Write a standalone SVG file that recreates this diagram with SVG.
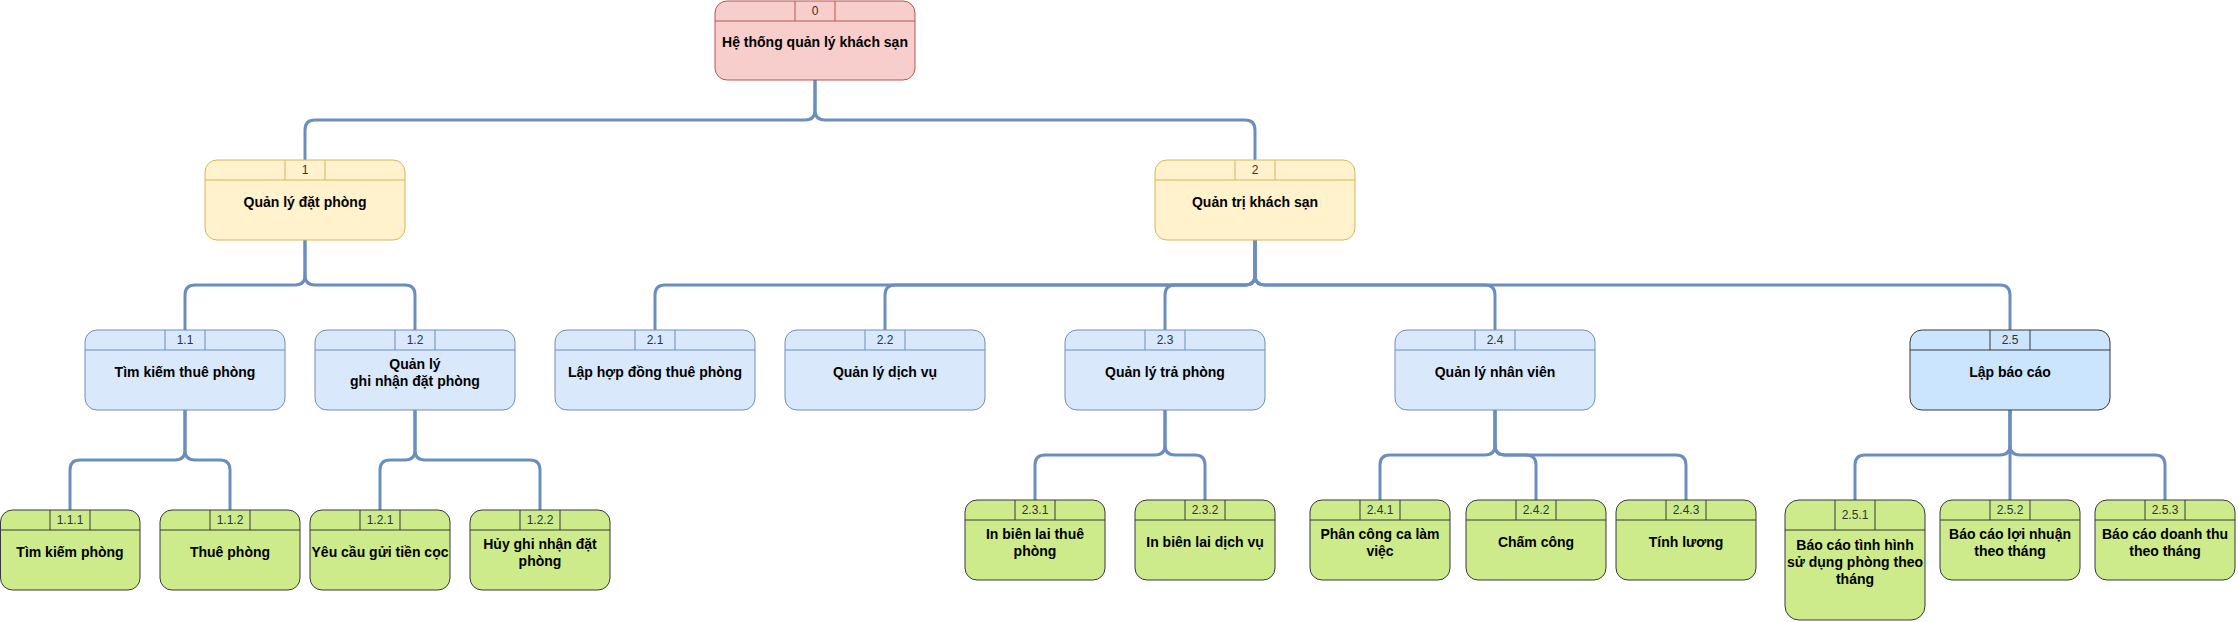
<svg xmlns="http://www.w3.org/2000/svg" width="2238" height="622" viewBox="0 0 2238 622">
<style>
.edge{fill:none;stroke:#6C8EBF;stroke-width:3}
.box{stroke-width:1}
.r0 .box{fill:#F8CECC;stroke:#B85450}
.r0 .sep{stroke:#B85450}
.l1 .box{fill:#FFF2CC;stroke:#D6B656}
.l1 .sep{stroke:#D6B656}
.l2 .box{fill:#DAE8FC;stroke:#6C8EBF}
.l2 .sep{stroke:#6C8EBF}
.l2b .box{fill:#CCE5FF;stroke:#36393D}
.l2b .sep{stroke:#36393D}
.l3 .box{fill:#CDEB8B;stroke:#36393D}
.l3 .sep{stroke:#36393D}
.sep{fill:none;stroke-width:1}
.num{font-family:"Liberation Sans",Arial,sans-serif;font-size:12px;fill:#333333;text-anchor:middle}
.lbl{font-family:"Liberation Sans",Arial,sans-serif;font-size:14px;font-weight:bold;fill:#000000;text-anchor:middle}
</style>
<g id="connectors">
<path class="edge" d="M815,80 V110 Q815,120 805,120 H315 Q305,120 305,130 V160"/>
<path class="edge" d="M815,80 V110 Q815,120 825,120 H1245 Q1255,120 1255,130 V160"/>
<path class="edge" d="M305,240 V275 Q305,285 295,285 H195 Q185,285 185,295 V330"/>
<path class="edge" d="M305,240 V275 Q305,285 315,285 H405 Q415,285 415,295 V330"/>
<path class="edge" d="M1255,240 V275 Q1255,285 1245,285 H665 Q655,285 655,295 V330"/>
<path class="edge" d="M1255,240 V275 Q1255,285 1245,285 H895 Q885,285 885,295 V330"/>
<path class="edge" d="M1255,240 V275 Q1255,285 1245,285 H1175 Q1165,285 1165,295 V330"/>
<path class="edge" d="M1255,240 V275 Q1255,285 1265,285 H1485 Q1495,285 1495,295 V330"/>
<path class="edge" d="M1255,240 V275 Q1255,285 1265,285 H2000 Q2010,285 2010,295 V330"/>
<path class="edge" d="M185,410 V450 Q185,460 175,460 H80 Q70,460 70,470 V510"/>
<path class="edge" d="M185,410 V450 Q185,460 195,460 H220 Q230,460 230,470 V510"/>
<path class="edge" d="M415,410 V450 Q415,460 405,460 H390 Q380,460 380,470 V510"/>
<path class="edge" d="M415,410 V450 Q415,460 425,460 H530 Q540,460 540,470 V510"/>
<path class="edge" d="M1165,410 V445 Q1165,455 1155,455 H1045 Q1035,455 1035,465 V500"/>
<path class="edge" d="M1165,410 V445 Q1165,455 1175,455 H1195 Q1205,455 1205,465 V500"/>
<path class="edge" d="M1495,410 V445 Q1495,455 1485,455 H1390 Q1380,455 1380,465 V500"/>
<path class="edge" d="M1495,410 V445 Q1495,455 1505,455 H1526 Q1536,455 1536,465 V500"/>
<path class="edge" d="M1495,410 V445 Q1495,455 1505,455 H1676 Q1686,455 1686,465 V500"/>
<path class="edge" d="M2010,410 V445 Q2010,455 2000,455 H1865 Q1855,455 1855,465 V500"/>
<path class="edge" d="M2010,410 V500"/>
<path class="edge" d="M2010,410 V445 Q2010,455 2020,455 H2155 Q2165,455 2165,465 V500"/>
</g>

<g id="n0" class="r0">
<rect class="box" x="715" y="1" width="200" height="79" rx="12"/>
<path class="sep" d="M715,21 H915 M795,1 V21 M835,1 V21"/>
<text class="num" x="815" y="15">0</text>
<text class="lbl" x="815" y="47">Hệ thống quản lý khách sạn</text>
</g>

<g id="n1" class="l1">
<rect class="box" x="205" y="160" width="200" height="80" rx="12"/>
<path class="sep" d="M205,180 H405 M285,160 V180 M325,160 V180"/>
<text class="num" x="305" y="174">1</text>
<text class="lbl" x="305" y="207">Quản lý đặt phòng</text>
</g>

<g id="n2" class="l1">
<rect class="box" x="1155" y="160" width="200" height="80" rx="12"/>
<path class="sep" d="M1155,180 H1355 M1235,160 V180 M1275,160 V180"/>
<text class="num" x="1255" y="174">2</text>
<text class="lbl" x="1255" y="207">Quản trị khách sạn</text>
</g>

<g id="n1-1" class="l2">
<rect class="box" x="85" y="330" width="200" height="80" rx="12"/>
<path class="sep" d="M85,350 H285 M165,330 V350 M205,330 V350"/>
<text class="num" x="185" y="344">1.1</text>
<text class="lbl" x="185" y="377">Tìm kiếm thuê phòng</text>
</g>

<g id="n1-2" class="l2">
<rect class="box" x="315" y="330" width="200" height="80" rx="12"/>
<path class="sep" d="M315,350 H515 M395,330 V350 M435,330 V350"/>
<text class="num" x="415" y="344">1.2</text>
<text class="lbl" x="415" y="368.5">Quản lý</text>
<text class="lbl" x="415" y="385.5">ghi nhận đặt phòng</text>
</g>

<g id="n2-1" class="l2">
<rect class="box" x="555" y="330" width="200" height="80" rx="12"/>
<path class="sep" d="M555,350 H755 M635,330 V350 M675,330 V350"/>
<text class="num" x="655" y="344">2.1</text>
<text class="lbl" x="655" y="377">Lập hợp đồng thuê phòng</text>
</g>

<g id="n2-2" class="l2">
<rect class="box" x="785" y="330" width="200" height="80" rx="12"/>
<path class="sep" d="M785,350 H985 M865,330 V350 M905,330 V350"/>
<text class="num" x="885" y="344">2.2</text>
<text class="lbl" x="885" y="377">Quản lý dịch vụ</text>
</g>

<g id="n2-3" class="l2">
<rect class="box" x="1065" y="330" width="200" height="80" rx="12"/>
<path class="sep" d="M1065,350 H1265 M1145,330 V350 M1185,330 V350"/>
<text class="num" x="1165" y="344">2.3</text>
<text class="lbl" x="1165" y="377">Quản lý trả phòng</text>
</g>

<g id="n2-4" class="l2">
<rect class="box" x="1395" y="330" width="200" height="80" rx="12"/>
<path class="sep" d="M1395,350 H1595 M1475,330 V350 M1515,330 V350"/>
<text class="num" x="1495" y="344">2.4</text>
<text class="lbl" x="1495" y="377">Quản lý nhân viên</text>
</g>

<g id="n2-5" class="l2b">
<rect class="box" x="1910" y="330" width="200" height="80" rx="12"/>
<path class="sep" d="M1910,350 H2110 M1990,330 V350 M2030,330 V350"/>
<text class="num" x="2010" y="344">2.5</text>
<text class="lbl" x="2010" y="377">Lập báo cáo</text>
</g>

<g id="n1-1-1" class="l3">
<rect class="box" x="0.5" y="510" width="139.5" height="80" rx="12"/>
<path class="sep" d="M0.5,530 H140 M50,510 V530 M90,510 V530"/>
<text class="num" x="70" y="524">1.1.1</text>
<text class="lbl" x="70" y="557">Tìm kiếm phòng</text>
</g>

<g id="n1-1-2" class="l3">
<rect class="box" x="160" y="510" width="140" height="80" rx="12"/>
<path class="sep" d="M160,530 H300 M210,510 V530 M250,510 V530"/>
<text class="num" x="230" y="524">1.1.2</text>
<text class="lbl" x="230" y="557">Thuê phòng</text>
</g>

<g id="n1-2-1" class="l3">
<rect class="box" x="310" y="510" width="140" height="80" rx="12"/>
<path class="sep" d="M310,530 H450 M360,510 V530 M400,510 V530"/>
<text class="num" x="380" y="524">1.2.1</text>
<text class="lbl" x="380" y="557">Yêu cầu gửi tiền cọc</text>
</g>

<g id="n1-2-2" class="l3">
<rect class="box" x="470" y="510" width="140" height="80" rx="12"/>
<path class="sep" d="M470,530 H610 M520,510 V530 M560,510 V530"/>
<text class="num" x="540" y="524">1.2.2</text>
<text class="lbl" x="540" y="548.5">Hủy ghi nhận đặt</text>
<text class="lbl" x="540" y="565.5">phòng</text>
</g>

<g id="n2-3-1" class="l3">
<rect class="box" x="965" y="500" width="140" height="80" rx="12"/>
<path class="sep" d="M965,520 H1105 M1015,500 V520 M1055,500 V520"/>
<text class="num" x="1035" y="514">2.3.1</text>
<text class="lbl" x="1035" y="538.5">In biên lai thuê</text>
<text class="lbl" x="1035" y="555.5">phòng</text>
</g>

<g id="n2-3-2" class="l3">
<rect class="box" x="1135" y="500" width="140" height="80" rx="12"/>
<path class="sep" d="M1135,520 H1275 M1185,500 V520 M1225,500 V520"/>
<text class="num" x="1205" y="514">2.3.2</text>
<text class="lbl" x="1205" y="547">In biên lai dịch vụ</text>
</g>

<g id="n2-4-1" class="l3">
<rect class="box" x="1310" y="500" width="140" height="80" rx="12"/>
<path class="sep" d="M1310,520 H1450 M1360,500 V520 M1400,500 V520"/>
<text class="num" x="1380" y="514">2.4.1</text>
<text class="lbl" x="1380" y="538.5">Phân công ca làm</text>
<text class="lbl" x="1380" y="555.5">việc</text>
</g>

<g id="n2-4-2" class="l3">
<rect class="box" x="1466" y="500" width="140" height="80" rx="12"/>
<path class="sep" d="M1466,520 H1606 M1516,500 V520 M1556,500 V520"/>
<text class="num" x="1536" y="514">2.4.2</text>
<text class="lbl" x="1536" y="547">Chấm công</text>
</g>

<g id="n2-4-3" class="l3">
<rect class="box" x="1616" y="500" width="140" height="80" rx="12"/>
<path class="sep" d="M1616,520 H1756 M1666,500 V520 M1706,500 V520"/>
<text class="num" x="1686" y="514">2.4.3</text>
<text class="lbl" x="1686" y="547">Tính lương</text>
</g>

<g id="n2-5-1" class="l3">
<rect class="box" x="1785" y="500" width="140" height="120" rx="14"/>
<path class="sep" d="M1785,530 H1925 M1835,500 V530 M1875,500 V530"/>
<text class="num" x="1855" y="519">2.5.1</text>
<text class="lbl" x="1855" y="550">Báo cáo tình hình</text>
<text class="lbl" x="1855" y="567">sử dụng phòng theo</text>
<text class="lbl" x="1855" y="584">tháng</text>
</g>

<g id="n2-5-2" class="l3">
<rect class="box" x="1940" y="500" width="140" height="80" rx="12"/>
<path class="sep" d="M1940,520 H2080 M1990,500 V520 M2030,500 V520"/>
<text class="num" x="2010" y="514">2.5.2</text>
<text class="lbl" x="2010" y="538.5">Báo cáo lợi nhuận</text>
<text class="lbl" x="2010" y="555.5">theo tháng</text>
</g>

<g id="n2-5-3" class="l3">
<rect class="box" x="2095" y="500" width="140" height="80" rx="12"/>
<path class="sep" d="M2095,520 H2235 M2145,500 V520 M2185,500 V520"/>
<text class="num" x="2165" y="514">2.5.3</text>
<text class="lbl" x="2165" y="538.5">Báo cáo doanh thu</text>
<text class="lbl" x="2165" y="555.5">theo tháng</text>
</g>
</svg>
